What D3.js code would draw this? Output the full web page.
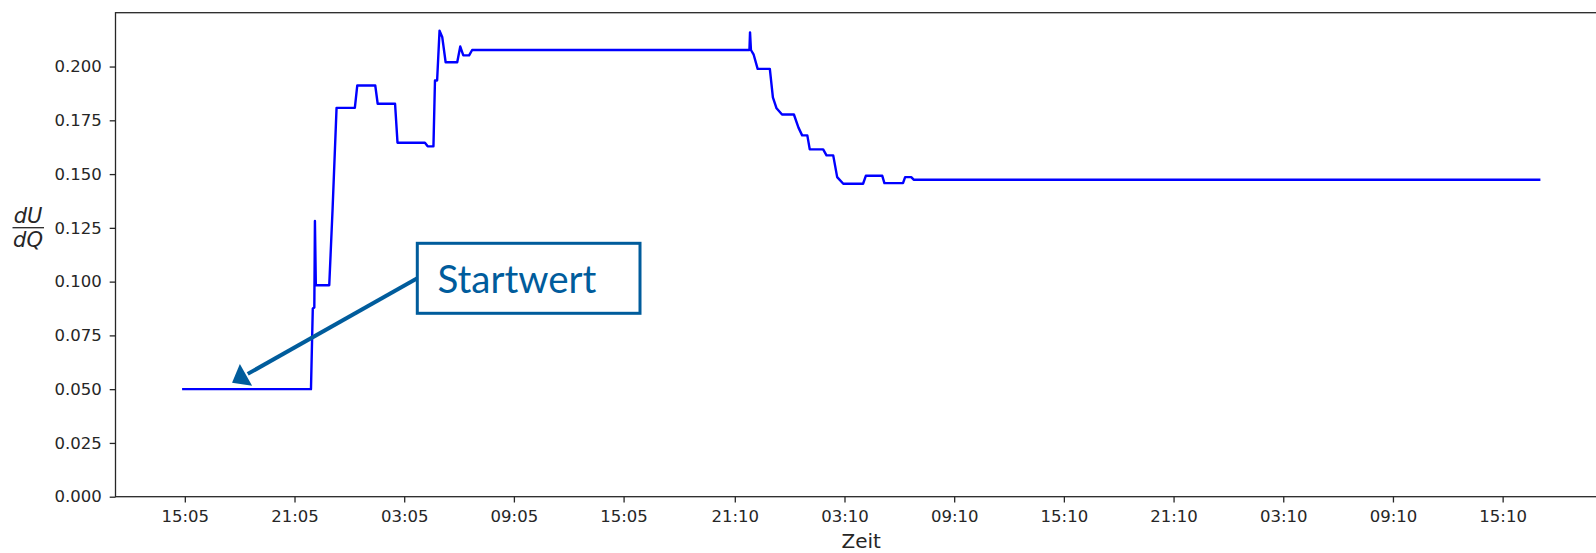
<!DOCTYPE html>
<html>
<head>
<meta charset="utf-8">
<script src="https://cdn.jsdelivr.net/npm/d3@7"></script>
<style>
  html, body { margin: 0; padding: 0; background: #fff; }
  svg { display: block; }
</style>
</head>
<body>
<svg id="chart" width="1596" height="553"></svg>
<script>
// Time stamps ("day HH:MM") and the estimated dU/dQ value at each of them
const times = [
  "1 15:00", "1 21:59", "1 22:05", "1 22:10", "1 22:12", "1 22:15",
  "1 22:59", "1 23:10", "1 23:23", "2 00:23", "2 00:31", "2 01:30",
  "2 01:38", "2 02:35", "2 02:43", "2 04:13", "2 04:22", "2 04:41",
  "2 04:46", "2 04:53", "2 05:01", "2 05:10", "2 05:21", "2 05:59",
  "2 06:09", "2 06:19", "2 06:38", "2 06:48", "2 21:58", "2 22:00",
  "2 22:03", "2 22:12", "2 22:25", "2 23:05", "2 23:15", "2 23:27",
  "2 23:45", "3 00:24", "3 00:39", "3 00:51", "3 01:08", "3 01:16",
  "3 02:00", "3 02:11", "3 02:33", "3 02:46", "3 03:06", "3 04:11",
  "3 04:20", "3 05:14", "3 05:21", "3 06:22", "3 06:29", "3 06:49",
  "3 06:57", "4 17:10"
];
const dUdQ = [
  0.0500, 0.0500, 0.0875, 0.0880, 0.1282, 0.0983,
  0.0983, 0.1339, 0.1808, 0.1808, 0.1912, 0.1912,
  0.1827, 0.1827, 0.1646, 0.1646, 0.1629, 0.1629,
  0.1935, 0.1935, 0.2167, 0.2136, 0.2020, 0.2020,
  0.2093, 0.2052, 0.2052, 0.2077, 0.2077, 0.2159,
  0.2077, 0.2055, 0.1989, 0.1989, 0.1857, 0.1806,
  0.1777, 0.1777, 0.1716, 0.1680, 0.1680, 0.1615,
  0.1615, 0.1587, 0.1587, 0.1486, 0.1455, 0.1455,
  0.1492, 0.1492, 0.1458, 0.1458, 0.1486, 0.1486,
  0.1474, 0.1474
];

// Axis ticks
const xTickTimes = [
  "1 15:05", "1 21:05", "2 03:05", "2 09:05", "2 15:05", "2 21:10", "3 03:10",
  "3 09:10", "3 15:10", "3 21:10", "4 03:10", "4 09:10", "4 15:10"
];
const xTickLabels = [
  "15:05", "21:05", "03:05", "09:05", "15:05", "21:10", "03:10",
  "09:10", "15:10", "21:10", "03:10", "09:10", "15:10"
];
const yTicks = [0, 0.025, 0.05, 0.075, 0.1, 0.125, 0.15, 0.175, 0.2];

// Callout pointing at the initial value
const calloutText = "Startwert";
const calloutTarget = ["1 17:40", 0.053];

const parse = d3.timeParse("%d %H:%M");
const data = times.map((t, i) => ({ t: parse(t), v: dUdQ[i] }));

const plot = { left: 115.5, right: 1607, top: 12.7, bottom: 496.7 };
const tickFont = "'DejaVu Sans', sans-serif";
const inkColor = "#262626";
const calloutColor = "#005c9c";

// Scales with a 5 % margin around the data, y starting at zero
const [t0, t1] = d3.extent(data, d => d.t);
const tPad = (t1 - t0) * 0.05;
const x = d3.scaleTime()
  .domain([new Date(+t0 - tPad), new Date(+t1 + tPad)])
  .range([plot.left, plot.right]);

const [v0, v1] = d3.extent(data, d => d.v);
const y = d3.scaleLinear()
  .domain([0, v1 + (v1 - v0) * 0.05])
  .range([plot.bottom, plot.top]);

const svg = d3.select("#chart");

// Series line
const line = d3.line().x(d => x(d.t)).y(d => y(d.v));
svg.append("path")
  .datum(data)
  .attr("d", line)
  .attr("fill", "none")
  .attr("stroke", "#0000ff")
  .attr("stroke-width", 2.4)
  .attr("stroke-linejoin", "round")
  .attr("stroke-linecap", "square");

// Axes
const xAxis = d3.axisBottom(x)
  .tickValues(xTickTimes.map(parse))
  .tickFormat((d, i) => xTickLabels[i])
  .tickSize(5.8)
  .tickSizeOuter(0)
  .tickPadding(7.5);

const yAxis = d3.axisLeft(y)
  .tickValues(yTicks)
  .tickFormat(d3.format(".3f"))
  .tickSize(5.8)
  .tickSizeOuter(0)
  .tickPadding(8);

function styleAxis(g) {
  g.select(".domain").remove();
  g.selectAll(".tick line").attr("stroke", inkColor).attr("stroke-width", 1.3);
  g.selectAll(".tick text")
    .attr("fill", inkColor)
    .style("font-family", tickFont)
    .style("font-size", "16.5px");
}

svg.append("g")
  .attr("transform", `translate(0,${plot.bottom})`)
  .call(xAxis)
  .call(styleAxis);

svg.append("g")
  .attr("transform", `translate(${plot.left},0)`)
  .call(yAxis)
  .call(styleAxis);

// Frame of the plotting area
svg.append("rect")
  .attr("x", plot.left)
  .attr("y", plot.top)
  .attr("width", plot.right - plot.left)
  .attr("height", plot.bottom - plot.top)
  .attr("fill", "none")
  .attr("stroke", inkColor)
  .attr("stroke-width", 1.3);

// Axis titles
svg.append("text")
  .attr("x", (plot.left + plot.right) / 2)
  .attr("y", 547.5)
  .attr("text-anchor", "middle")
  .attr("fill", inkColor)
  .style("font-family", tickFont)
  .style("font-size", "20px")
  .text("Zeit");

const yLabel = svg.append("g").attr("transform", "translate(28,0)");
yLabel.append("text")
  .attr("x", 0).attr("y", 222.5)
  .attr("text-anchor", "middle")
  .attr("fill", inkColor)
  .style("font-family", tickFont)
  .style("font-style", "italic")
  .style("font-size", "21px")
  .text("dU");
yLabel.append("line")
  .attr("x1", -15.5).attr("x2", 16)
  .attr("y1", 227.7).attr("y2", 227.7)
  .attr("stroke", inkColor)
  .attr("stroke-width", 1.3);
yLabel.append("text")
  .attr("x", 0).attr("y", 246.5)
  .attr("text-anchor", "middle")
  .attr("fill", inkColor)
  .style("font-family", tickFont)
  .style("font-style", "italic")
  .style("font-size", "21px")
  .text("dQ");

// Callout box with arrow
const box = { x: 417.3, y: 243.3, w: 222.7, h: 70 };
const tip = [x(parse(calloutTarget[0])), y(calloutTarget[1])];
const start = [box.x, box.y + box.h / 2];
const len = Math.hypot(start[0] - tip[0], start[1] - tip[1]);
const dir = [(start[0] - tip[0]) / len, (start[1] - tip[1]) / len];
const headLen = 16, headHalf = 12.5;
const base = [tip[0] + dir[0] * headLen, tip[1] + dir[1] * headLen];
const perp = [-dir[1], dir[0]];

svg.append("line")
  .attr("x1", start[0]).attr("y1", start[1])
  .attr("x2", base[0] + dir[0] * 2).attr("y2", base[1] + dir[1] * 2)
  .attr("stroke", calloutColor)
  .attr("stroke-width", 4);

svg.append("polygon")
  .attr("points", [
    tip,
    [base[0] + perp[0] * headHalf, base[1] + perp[1] * headHalf],
    [base[0] - perp[0] * headHalf, base[1] - perp[1] * headHalf]
  ].map(p => p.join(",")).join(" "))
  .attr("fill", calloutColor);

svg.append("rect")
  .attr("x", box.x).attr("y", box.y)
  .attr("width", box.w).attr("height", box.h)
  .attr("fill", "#fff")
  .attr("stroke", calloutColor)
  .attr("stroke-width", 3);

svg.append("text")
  .attr("x", 437.5)
  .attr("y", 292.5)
  .attr("fill", calloutColor)
  .style("font-family", "Lato, 'Open Sans', sans-serif")
  .style("font-size", "38.5px")
  .text(calloutText);
</script>
</body>
</html>
